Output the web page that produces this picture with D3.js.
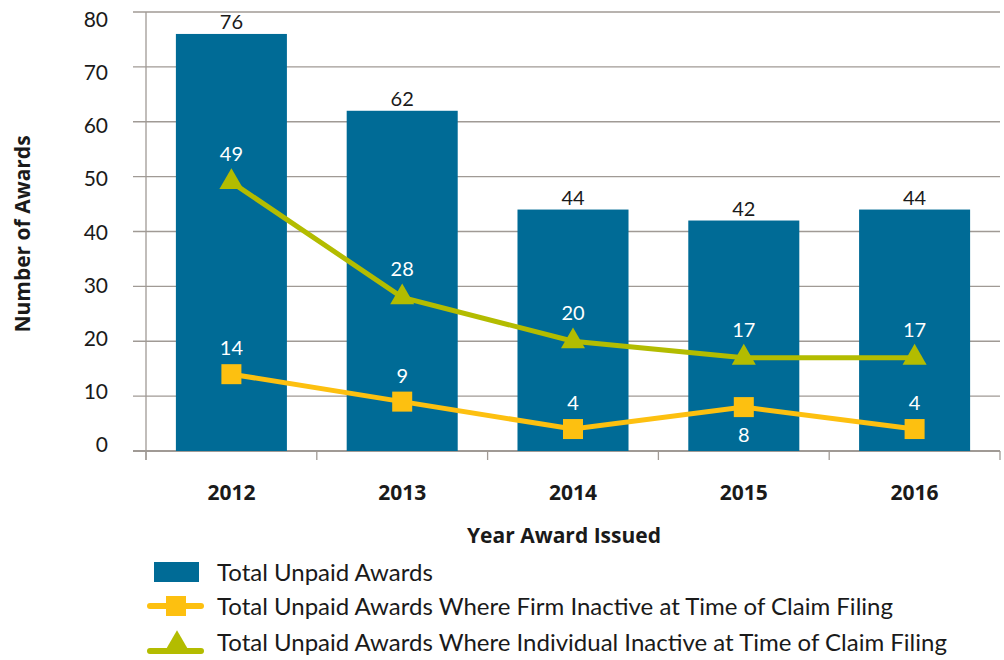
<!DOCTYPE html>
<html>
<head>
<meta charset="utf-8">
<script src="https://cdn.jsdelivr.net/npm/d3@7"></script>
<style>
  body { margin: 0; background: #fff; }
  text { font-family: Lato, "Open Sans", sans-serif; fill: #1a1a1a; }
  text.bold { font-family: "Open Sans", sans-serif; font-weight: bold; }
</style>
</head>
<body>
<script>
// chart size
var w = 1004;
var h = 660;

// data
const years = ["2012", "2013", "2014", "2015", "2016"];
const totalUnpaid = [76, 62, 44, 42, 44];
const firmInactive = [14, 9, 4, 8, 4];
const individualInactive = [49, 28, 20, 17, 17];
const yTicks = [0, 10, 20, 30, 40, 50, 60, 70, 80];

const blue = "#006b96";
const yellow = "#fdc010";
const green = "#b3bc00";
const gridColor = "#a09a95";

const plotLeft = 146, plotRight = 1000, plotTop = 12, plotBottom = 451;

const svg = d3.select("body")
  .append("svg")
    .attr("width", w)
    .attr("height", h);

const xScale = d3.scaleBand()
  .domain(years)
  .range([plotLeft, plotRight])
  .paddingInner(0.35)
  .paddingOuter(0.175);

const xBand = d3.scaleBand()
  .domain(years)
  .range([plotLeft, plotRight]);

const yScale = d3.scaleLinear()
  .domain([0, 80])
  .range([plotBottom, plotTop]);

// tick labels in the original sit on a slightly tighter spacing than the grid
const yLabelScale = d3.scaleLinear()
  .domain([0, 80])
  .range([444.5, 19.5]);

const cx = d => xScale(d) + xScale.bandwidth() / 2;

// gridlines
svg.append("g")
  .selectAll("line")
  .data(yTicks)
  .enter()
  .append("line")
    .attr("x1", plotLeft - 13)
    .attr("x2", plotRight)
    .attr("y1", d => yScale(d))
    .attr("y2", d => yScale(d))
    .attr("stroke", gridColor)
    .attr("stroke-width", d => d === 0 ? 2 : 1.3);

// y tick labels
svg.append("g")
  .selectAll("text")
  .data(yTicks)
  .enter()
  .append("text")
    .attr("x", 108)
    .attr("y", d => yLabelScale(d))
    .attr("dy", "0.36em")
    .attr("text-anchor", "end")
    .style("font-size", "21px")
    .text(d => d);

// y axis line
svg.append("line")
  .attr("x1", plotLeft).attr("x2", plotLeft)
  .attr("y1", plotTop).attr("y2", plotBottom + 9)
  .attr("stroke", gridColor)
  .attr("stroke-width", 1.3);

// x ticks at band edges
const edges = years.map(d => xBand(d)).concat([plotRight]);
svg.append("g")
  .selectAll("line")
  .data(edges)
  .enter()
  .append("line")
    .attr("x1", d => d).attr("x2", d => d)
    .attr("y1", plotBottom).attr("y2", plotBottom + 9)
    .attr("stroke", gridColor)
    .attr("stroke-width", 1.3);

// bars
svg.append("g")
  .selectAll("rect")
  .data(years)
  .enter()
  .append("rect")
    .attr("x", d => xScale(d))
    .attr("y", (d, i) => yScale(totalUnpaid[i]))
    .attr("width", xScale.bandwidth())
    .attr("height", (d, i) => yScale(0) - yScale(totalUnpaid[i]))
    .attr("fill", blue);

// bar labels
svg.append("g")
  .selectAll("text")
  .data(years)
  .enter()
  .append("text")
    .attr("x", d => cx(d))
    .attr("y", (d, i) => yScale(totalUnpaid[i]) - 5)
    .attr("text-anchor", "middle")
    .style("font-size", "20px")
    .text((d, i) => totalUnpaid[i]);

// lines
const line = d3.line()
  .x(d => cx(d[0]))
  .y(d => yScale(d[1]));

svg.append("path")
  .datum(years.map((d, i) => [d, individualInactive[i]]))
  .attr("d", line)
  .attr("fill", "none")
  .attr("stroke", green)
  .attr("stroke-width", 5);

svg.append("path")
  .datum(years.map((d, i) => [d, firmInactive[i]]))
  .attr("d", line)
  .attr("fill", "none")
  .attr("stroke", yellow)
  .attr("stroke-width", 5);

// markers
const tri = d3.symbol().type(d3.symbolTriangle).size(250);
svg.append("g")
  .selectAll("path")
  .data(years)
  .enter()
  .append("path")
    .attr("d", tri)
    .attr("transform", (d, i) => `translate(${cx(d)},${yScale(individualInactive[i])})`)
    .attr("fill", green);

svg.append("g")
  .selectAll("rect")
  .data(years)
  .enter()
  .append("rect")
    .attr("x", d => cx(d) - 10)
    .attr("y", (d, i) => yScale(firmInactive[i]) - 10)
    .attr("width", 20)
    .attr("height", 20)
    .attr("fill", yellow);

// line labels (white)
svg.append("g")
  .selectAll("text")
  .data(years)
  .enter()
  .append("text")
    .attr("x", d => cx(d))
    .attr("y", (d, i) => yScale(individualInactive[i]) - 21)
    .attr("text-anchor", "middle")
    .style("font-size", "20px")
    .style("fill", "#fff")
    .text((d, i) => individualInactive[i]);

svg.append("g")
  .selectAll("text")
  .data(years)
  .enter()
  .append("text")
    .attr("x", d => cx(d))
    .attr("y", (d, i) => d === "2015"
      ? yScale(firmInactive[i]) + 35
      : yScale(firmInactive[i]) - 19)
    .attr("text-anchor", "middle")
    .style("font-size", "20px")
    .style("fill", "#fff")
    .text((d, i) => firmInactive[i]);

// x labels
svg.append("g")
  .selectAll("text")
  .data(years)
  .enter()
  .append("text")
    .attr("class", "bold")
    .attr("x", d => cx(d))
    .attr("y", 500)
    .attr("text-anchor", "middle")
    .style("font-size", "21px")
    .text(d => d);

// axis titles
svg.append("text")
  .attr("class", "bold")
  .attr("x", 564)
  .attr("y", 543)
  .attr("text-anchor", "middle")
  .style("font-size", "21px")
  .text("Year Award Issued");

svg.append("text")
  .attr("class", "bold")
  .attr("transform", "translate(30,234) rotate(-90)")
  .attr("text-anchor", "middle")
  .style("font-size", "21px")
  .text("Number of Awards");

// legend
const legendItems = [
  { label: "Total Unpaid Awards", kind: "bar" },
  { label: "Total Unpaid Awards Where Firm Inactive at Time of Claim Filing", kind: "square" },
  { label: "Total Unpaid Awards Where Individual Inactive at Time of Claim Filing", kind: "triangle" }
];
const legendY = [572, 606, 642];

const legend = svg.append("g")
  .selectAll("g")
  .data(legendItems)
  .enter()
  .append("g")
    .attr("transform", (d, i) => `translate(0,${legendY[i]})`);

legend.filter(d => d.kind === "bar")
  .append("rect")
    .attr("x", 154).attr("y", -10)
    .attr("width", 45).attr("height", 20)
    .attr("fill", blue);

legend.filter(d => d.kind !== "bar")
  .append("line")
    .attr("x1", 150).attr("x2", 201)
    .attr("y1", d => d.kind === "triangle" ? 9 : 0)
    .attr("y2", d => d.kind === "triangle" ? 9 : 0)
    .attr("stroke", d => d.kind === "square" ? yellow : green)
    .attr("stroke-width", 6)
    .attr("stroke-linecap", "round");

legend.filter(d => d.kind === "square")
  .append("rect")
    .attr("x", 166).attr("y", -10)
    .attr("width", 20).attr("height", 20)
    .attr("fill", yellow);

legend.filter(d => d.kind === "triangle")
  .append("path")
    .attr("d", tri)
    .attr("transform", "translate(177,2)")
    .attr("fill", green);

legend.append("text")
  .attr("x", 217)
  .attr("dy", "0.36em")
  .style("font-size", "24px")
  .text(d => d.label);
</script>
</body>
</html>
